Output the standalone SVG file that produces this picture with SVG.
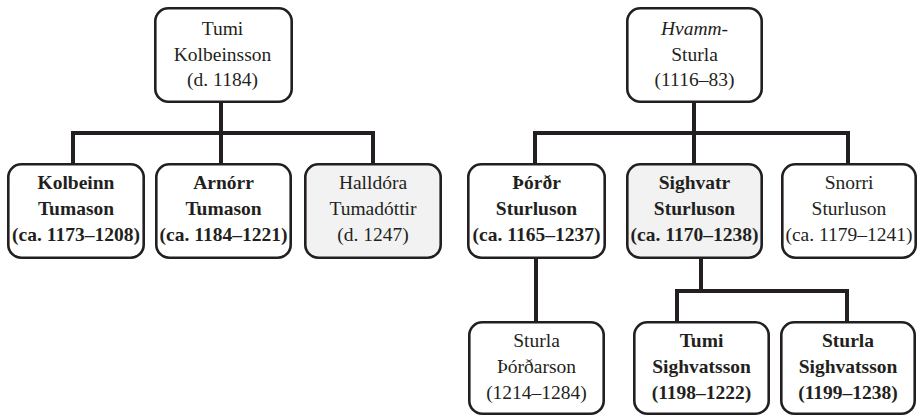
<svg xmlns="http://www.w3.org/2000/svg" width="919" height="417" viewBox="0 0 919 417">
<style>
.box{fill:#ffffff;stroke:#231f20;stroke-width:2.6}
.grey{fill:#f2f2f2}
.ln{fill:none;stroke:#231f20;stroke-width:4;stroke-linecap:butt;stroke-linejoin:miter}
text{font-family:"Liberation Serif","Times New Roman",serif;font-size:19.5px;fill:#231f20;text-anchor:middle}
.b{font-weight:bold}
.i{font-style:italic}
</style>
<rect width="919" height="417" fill="#ffffff"/>
<g id="connectors">
<path class="ln" d="M221,103 V163 M73,163 V133 H373 V163"/>
<path class="ln" d="M694,103 V163 M535,163 V133 H848 V163"/>
<path class="ln" d="M536,258 V321"/>
<path class="ln" d="M701,258 V291 M677,321 V291 H847 V321"/>
</g>
<g id="tumi-kolbeinsson">
<rect class="box" x="155.3" y="8.3" width="136.4" height="93.4" rx="13"/>
<text x="222.5" y="35">Tumi</text><text x="222.5" y="61">Kolbeinsson</text><text x="222.5" y="86">(d. 1184)</text>
</g>
<g id="kolbeinn-tumason">
<rect class="box" x="8.3" y="164.3" width="135.4" height="93.4" rx="13"/>
<text class="b" x="76" y="189">Kolbeinn</text><text class="b" x="76" y="215">Tumason</text><text class="b" x="76" y="241">(ca. 1173–1208)</text>
</g>
<g id="arnorr-tumason">
<rect class="box" x="156.3" y="164.3" width="134.4" height="93.4" rx="13"/>
<text class="b" x="223.5" y="189">Arnórr</text><text class="b" x="223.5" y="215">Tumason</text><text class="b" x="223.5" y="241">(ca. 1184–1221)</text>
</g>
<g id="halldora-tumadottir">
<rect class="box grey" x="305.3" y="164.3" width="135.4" height="93.4" rx="13"/>
<text x="373" y="189">Halldóra</text><text x="373" y="215">Tumadóttir</text><text x="373" y="241">(d. 1247)</text>
</g>
<g id="hvamm-sturla">
<rect class="box" x="627.3" y="8.3" width="134.4" height="93.4" rx="13"/>
<text class="i" x="694.5" y="35">Hvamm-</text><text x="694.5" y="61">Sturla</text><text x="694.5" y="86">(1116–83)</text>
</g>
<g id="thordr-sturluson">
<rect class="box" x="468.3" y="164.3" width="136.4" height="93.4" rx="13"/>
<text class="b" x="536.5" y="189">Þórðr</text><text class="b" x="536.5" y="215">Sturluson</text><text class="b" x="536.5" y="241">(ca. 1165–1237)</text>
</g>
<g id="sighvatr-sturluson">
<rect class="box grey" x="627.3" y="164.3" width="134.4" height="93.4" rx="13"/>
<text class="b" x="694.5" y="189">Sighvatr</text><text class="b" x="694.5" y="215">Sturluson</text><text class="b" x="694.5" y="241">(ca. 1170–1238)</text>
</g>
<g id="snorri-sturluson">
<rect class="box" x="782.3" y="164.3" width="133.4" height="93.4" rx="13"/>
<text x="849" y="189">Snorri</text><text x="849" y="215">Sturluson</text><text x="849" y="241">(ca. 1179–1241)</text>
</g>
<g id="sturla-thordarson">
<rect class="box" x="469.3" y="322.3" width="134.4" height="91.4" rx="13"/>
<text x="536.5" y="347">Sturla</text><text x="536.5" y="373">Þórðarson</text><text x="536.5" y="399">(1214–1284)</text>
</g>
<g id="tumi-sighvatsson">
<rect class="box" x="634.3" y="322.3" width="134.4" height="91.4" rx="13"/>
<text class="b" x="701.5" y="347">Tumi</text><text class="b" x="701.5" y="373">Sighvatsson</text><text class="b" x="701.5" y="399">(1198–1222)</text>
</g>
<g id="sturla-sighvatsson">
<rect class="box" x="781.3" y="322.3" width="133.4" height="91.4" rx="13"/>
<text class="b" x="848" y="347">Sturla</text><text class="b" x="848" y="373">Sighvatsson</text><text class="b" x="848" y="399">(1199–1238)</text>
</g>
</svg>
